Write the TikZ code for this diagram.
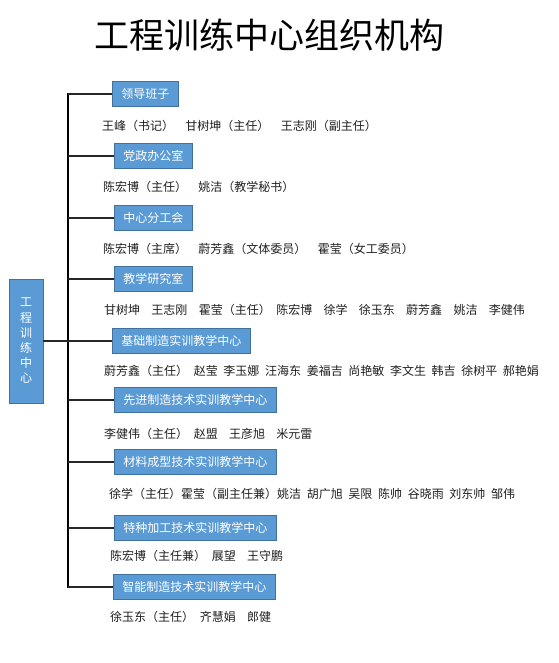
\documentclass[tikz,border=0pt]{standalone}
\usepackage{fontspec}
\setmainfont{Noto Sans CJK SC}
\usepackage{tikz}
\usetikzlibrary{positioning,calc}
\definecolor{deptFill}{HTML}{5B9BD5}
\definecolor{deptLine}{HTML}{41719C}
\definecolor{staffText}{HTML}{1F1F1F}
\newcommand{\ws}{\hspace{.47em}}

\begin{document}
\begin{tikzpicture}[x=1pt, y=-1pt,
      dept/.style={rectangle, draw=deptLine, fill=deptFill, line width=0.8pt,
                   text=white, font=\fontsize{12}{14}\selectfont,
                   minimum height=25pt, inner xsep=9pt, inner ysep=0pt, anchor=west},
      root/.style={dept, anchor=center, minimum width=34pt, minimum height=124pt,
                   inner xsep=0pt, align=center, font=\fontsize{12}{15.2}\selectfont},
      staff/.style={anchor=west, inner sep=0pt, text=staffText,
                    font=\fontsize{12}{14}\selectfont},
      trunk/.style={line width=1.8pt, black, line cap=rect},
      branch/.style={line width=1.3pt, black!85}
    ]
      \useasboundingbox (0,0) rectangle (558,663);

      % Title
      \node[font=\fontsize{35}{40}\selectfont, inner sep=0pt] (title) at (269,35) {工程训练中心组织机构};

      % Root
      \node[root] (root) at (26,341) {工\\程\\训\\练\\中\\心};

      % Leadership
      \node[dept] (lead) at (112,94) {领导班子};
      \node[staff] (lead-m) at (102,126) {王峰（书记）\ws\ws 甘树坤（主任）\ws\ws 王志刚（副主任）};

      % Office
      \node[dept] (office) at (114,156) {党政办公室};
      \node[staff] (office-m) at (103,187) {陈宏博（主任）\ws\ws 姚洁（教学秘书）};

      % Union
      \node[dept] (union) at (114,218) {中心分工会};
      \node[staff] (union-m) at (103,249) {陈宏博（主席）\ws\ws 蔚芳鑫（文体委员）\ws\ws 霍莹（女工委员）};

      % Teaching
      \node[dept] (teach) at (114,279) {教学研究室};
      \node[staff] (teach-m) at (104,310) {甘树坤\ws\ws 王志刚\ws\ws 霍莹（主任）\ws 陈宏博\ws\ws 徐学\ws\ws 徐玉东\ws\ws 蔚芳鑫\ws\ws 姚洁\ws\ws 李健伟};

      % Basic manufacturing
      \node[dept] (basic) at (112,341) {基础制造实训教学中心};
      \node[staff] (basic-m) at (104,371) {蔚芳鑫（主任）\ws 赵莹\ws 李玉娜\ws 汪海东\ws 姜福吉\ws 尚艳敏\ws 李文生\ws 韩吉\ws 徐树平\ws 郝艳娟};

      % Advanced manufacturing
      \node[dept] (adv) at (114,400) {先进制造技术实训教学中心};
      \node[staff] (adv-m) at (104,434) {李健伟（主任）\ws 赵盟\ws\ws 王彦旭\ws\ws 米元雷};

      % Material forming
      \node[dept] (mat) at (114,462) {材料成型技术实训教学中心};
      \node[staff] (mat-m) at (109,494) {徐学（主任）霍莹（副主任兼）姚洁\ws 胡广旭\ws 吴限\ws 陈帅\ws 谷晓雨\ws 刘东帅\ws 邹伟};

      % Special machining
      \node[dept] (spec) at (114,528) {特种加工技术实训教学中心};
      \node[staff] (spec-m) at (110,556) {陈宏博（主任兼）\ws 展望\ws\ws 王守鹏};

      % Smart manufacturing
      \node[dept] (smart) at (113,587) {智能制造技术实训教学中心};
      \node[staff] (smart-m) at (110,617) {徐玉东（主任）\ws 齐慧娟\ws\ws 郎健};

      % Edges
      \coordinate (ttop) at (68,94);
      \coordinate (tbot) at (68,587);
      \draw[trunk] (ttop) -- (tbot);
      \draw[branch] (root.east) -- (root.east -| ttop);
      \draw[branch] (lead.west -| ttop) -- (lead.west);
      \draw[branch] (office.west -| ttop) -- (office.west);
      \draw[branch] (union.west -| ttop) -- (union.west);
      \draw[branch] (teach.west -| ttop) -- (teach.west);
      \draw[branch] (basic.west -| ttop) -- (basic.west);
      \draw[branch] (adv.west -| ttop) -- (adv.west);
      \draw[branch] (mat.west -| ttop) -- (mat.west);
      \draw[branch] (spec.west -| ttop) -- (spec.west);
      \draw[branch] (smart.west -| ttop) -- (smart.west);
    \end{tikzpicture}
\end{document}
